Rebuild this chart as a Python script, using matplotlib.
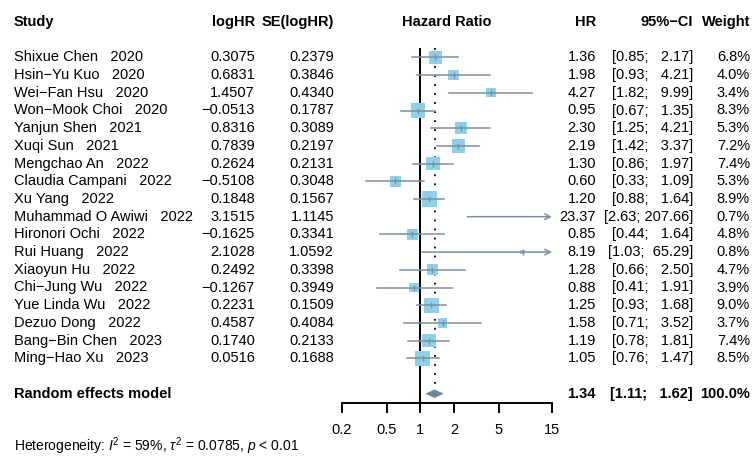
import matplotlib
matplotlib.use("Agg")
import matplotlib.pyplot as plt
from matplotlib.ticker import FixedLocator, FixedFormatter, NullLocator
import numpy as np

plt.rcParams['font.family'] = ['Liberation Sans', 'DejaVu Sans']
plt.rcParams['mathtext.fontset'] = 'custom'
plt.rcParams['mathtext.rm'] = 'Liberation Sans'
plt.rcParams['mathtext.it'] = 'Liberation Sans:italic'
plt.rcParams['mathtext.bf'] = 'Liberation Sans:bold'

# ---------------- data ----------------
names = ["Shixue Chen", "Hsin\u2212Yu Kuo", "Wei\u2212Fan Hsu", "Won\u2212Mook Choi",
         "Yanjun Shen", "Xuqi Sun", "Mengchao An", "Claudia Campani", "Xu Yang",
         "Muhammad O Awiwi", "Hironori Ochi", "Rui Huang", "Xiaoyun Hu",
         "Chi\u2212Jung Wu", "Yue Linda Wu", "Dezuo Dong", "Bang\u2212Bin Chen",
         "Ming\u2212Hao Xu"]
years = [2020, 2020, 2020, 2020, 2021, 2021, 2022, 2022, 2022, 2022, 2022, 2022,
         2022, 2022, 2022, 2022, 2023, 2023]
loghr = ["0.3075", "0.6831", "1.4507", "\u22120.0513", "0.8316", "0.7839", "0.2624",
         "\u22120.5108", "0.1848", "3.1515", "\u22120.1625", "2.1028", "0.2492",
         "\u22120.1267", "0.2231", "0.4587", "0.1740", "0.0516"]
se_loghr = ["0.2379", "0.3846", "0.4340", "0.1787", "0.3089", "0.2197", "0.2131",
            "0.3048", "0.1567", "1.1145", "0.3341", "1.0592", "0.3398", "0.3949",
            "0.1509", "0.4084", "0.2133", "0.1688"]
hr = [1.36, 1.98, 4.27, 0.95, 2.30, 2.19, 1.30, 0.60, 1.20, 23.37, 0.85, 8.19,
      1.28, 0.88, 1.25, 1.58, 1.19, 1.05]
ci_low = [0.85, 0.93, 1.82, 0.67, 1.25, 1.42, 0.86, 0.33, 0.88, 2.63, 0.44, 1.03,
          0.66, 0.41, 0.93, 0.71, 0.78, 0.76]
ci_high = [2.17, 4.21, 9.99, 1.35, 4.21, 3.37, 1.97, 1.09, 1.64, 207.66, 1.64, 65.29,
           2.50, 1.91, 1.68, 3.52, 1.81, 1.47]
weights = [6.8, 4.0, 3.4, 8.3, 5.3, 7.2, 7.4, 5.3, 8.9, 0.7, 4.8, 0.8, 4.7, 3.9,
           9.0, 3.7, 7.4, 8.5]
pooled_hr, pooled_low, pooled_high, pooled_weight = 1.34, 1.11, 1.62, 100.0
heterogeneity = r"Heterogeneity: $\mathit{I}^{2}$ = 59%, $\tau^{2}$ = 0.0785, $\mathit{p}$ < 0.01"
xticks = [0.2, 0.5, 1, 2, 5, 15]
xlim = (0.2, 15)

# ---------------- layout ----------------
W, H = 753, 457
fig = plt.figure(figsize=(W / 100, H / 100), dpi=100)
px0 = 22.0      # pixel y of header row
rowh = 17.7     # pixel height per row
ytop = -px0 / rowh
ybot = (H - px0) / rowh

ax = fig.add_axes([0, 0, 1, 1])
ax.set_xlim(0, W)
ax.set_ylim(ybot, ytop)
ax.axis('off')

fs = 10.5
n = len(names)
rows = np.arange(n) + 2
pooled_row = n + 3
axis_row = pooled_row + 0.5

# column x positions (pixels)
x_study, x_loghr, x_se, x_hrc, x_hr, x_ci, x_w = 14, 255, 334, 447, 596, 693, 750

# headers
ax.text(x_study, 0, "Study", ha='left', va='center', fontsize=fs, fontweight='bold')
ax.text(x_loghr, 0, "logHR", ha='right', va='center', fontsize=fs, fontweight='bold')
ax.text(x_se, 0, "SE(logHR)", ha='right', va='center', fontsize=fs, fontweight='bold')
ax.text(x_hrc, 0, "Hazard Ratio", ha='center', va='center', fontsize=fs, fontweight='bold')
ax.text(x_hr, 0, "HR", ha='right', va='center', fontsize=fs, fontweight='bold')
ax.text(x_ci, 0, "95%\u2212CI", ha='right', va='center', fontsize=fs, fontweight='bold')
ax.text(x_w, 0, "Weight", ha='right', va='center', fontsize=fs, fontweight='bold')

up_w = max(len(f"{v:.2f}") for v in ci_high)


def ci_str(lo, hi):
    return f"[{lo:.2f}; {f'{hi:.2f}'.rjust(up_w)}]"


for i in range(n):
    y = rows[i]
    ax.text(x_study, y, f"{names[i]}   {years[i]}", ha='left', va='center', fontsize=fs)
    ax.text(x_loghr, y, loghr[i], ha='right', va='center', fontsize=fs)
    ax.text(x_se, y, se_loghr[i], ha='right', va='center', fontsize=fs)
    ax.text(x_hr, y, f"{hr[i]:.2f}", ha='right', va='center', fontsize=fs)
    ax.text(x_ci, y, ci_str(ci_low[i], ci_high[i]), ha='right', va='center', fontsize=fs)
    ax.text(x_w, y, f"{weights[i]:.1f}%", ha='right', va='center', fontsize=fs)

ax.text(x_study, pooled_row, "Random effects model", ha='left', va='center',
        fontsize=fs, fontweight='bold')
ax.text(x_hr, pooled_row, f"{pooled_hr:.2f}", ha='right', va='center',
        fontsize=fs, fontweight='bold')
ax.text(x_ci, pooled_row, ci_str(pooled_low, pooled_high), ha='right', va='center',
        fontsize=fs, fontweight='bold')
ax.text(x_w, pooled_row, f"{pooled_weight:.1f}%", ha='right', va='center',
        fontsize=fs, fontweight='bold')
ax.text(x_study, pooled_row + 2.95, heterogeneity, ha='left', va='center', fontsize=fs - 0.5)

# ---------------- forest axes ----------------
fx0, fx1 = 342, 552
fa = fig.add_axes([fx0 / W, 0, (fx1 - fx0) / W, 1])
fa.set_xscale('log')
fa.set_xlim(*xlim)
fa.set_ylim(ybot, ytop)
fa.patch.set_visible(False)
for s in ['top', 'left', 'right']:
    fa.spines[s].set_visible(False)
fa.spines['bottom'].set_position(('data', axis_row))
fa.spines['bottom'].set_linewidth(1.4)
fa.yaxis.set_major_locator(NullLocator())
fa.xaxis.set_major_locator(FixedLocator(xticks))
fa.xaxis.set_major_formatter(FixedFormatter([f"{t:g}" for t in xticks]))
fa.xaxis.set_minor_locator(NullLocator())
fa.tick_params(axis='x', direction='out', length=7.2, width=1.4, labelsize=fs, pad=7.5)

line_col = '#7F8E9C'
sq_col = '#8ED0EA'
dia_col = '#70869A'

top_line = 1.45
# reference line at 1 and dotted pooled line
fa.plot([1, 1], [top_line, axis_row], color='black', lw=1.4, zorder=2, solid_capstyle='butt')
fa.plot([pooled_hr, pooled_hr], [top_line, pooled_row - 0.25], color='black', lw=1.3,
        linestyle=(0, (1, 4)), zorder=2)

lo_lim, hi_lim = xlim
for i in range(n):
    y = rows[i]
    l = max(ci_low[i], lo_lim)
    h = min(ci_high[i], hi_lim)
    if ci_high[i] > hi_lim:
        fa.annotate("", xy=(h, y), xytext=(l, y),
                    arrowprops=dict(arrowstyle='->', color=line_col, lw=1.1,
                                    shrinkA=0, shrinkB=0, mutation_scale=10),
                    zorder=4)
    else:
        fa.plot([l, h], [y, y], color=line_col, lw=1.1, zorder=4)

# squares (area proportional to weight)
max_w = max(weights)
in_rng = [i for i in range(n) if lo_lim <= hr[i] <= hi_lim]
fa.scatter([hr[i] for i in in_rng], [rows[i] for i in in_rng],
           s=[118 * weights[i] / max_w for i in in_rng], marker='s',
           color=sq_col, edgecolors='none', zorder=3)
fa.scatter([hr[i] for i in in_rng], [rows[i] for i in in_rng], s=18, marker='|',
           color=line_col, linewidths=1.0, zorder=5)

# diamond
dh = 0.24
fa.fill([pooled_low, pooled_hr, pooled_high, pooled_hr],
        [pooled_row, pooled_row - dh, pooled_row, pooled_row + dh],
        color=dia_col, zorder=4, lw=0)

fig.savefig("out.png", dpi=100)
